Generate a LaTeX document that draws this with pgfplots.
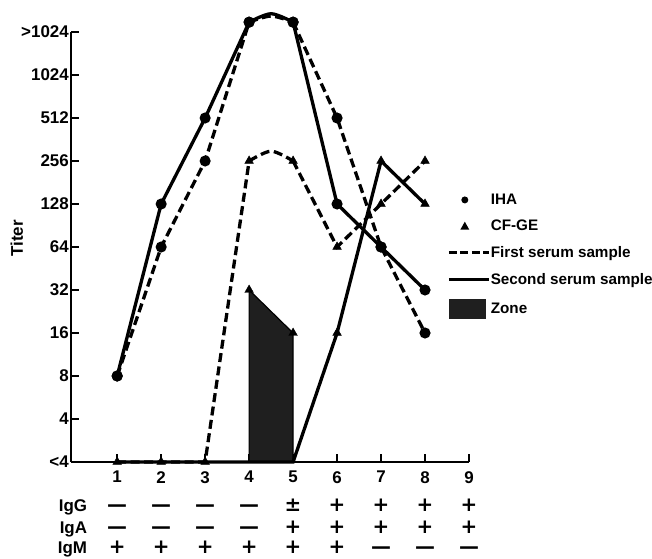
\documentclass[border=0pt]{standalone}
\usepackage{pgfplots}
\pgfplotsset{compat=1.18}
\usepackage{fontspec}
\setmainfont{Liberation Sans}
\newfontfamily\signfont{DejaVu Sans}
\newcommand\tfont{\bfseries\fontsize{17}{19}\selectfont}
\newcommand\lfont{\bfseries\fontsize{15.3}{17}\selectfont}
\newcommand\sfont{\signfont\bfseries\fontsize{20}{20}\selectfont}
\begin{document}
\begin{tikzpicture}
\useasboundingbox (0,0) rectangle (652bp,559bp);
\begin{axis}[
  at={(71bp,97bp)}, anchor=south west,
  scale only axis, width=398bp, height=430bp,
  xmin=-0.05, xmax=9, ymin=2, ymax=2048,
  ymode=log, log basis y=2,
  axis x line*=bottom, axis y line*=left,
  axis line style={line width=2.8bp},
  xtick={1,2,3,4,5,6,7,8,9},
  xticklabels={1,2,3,4,5,6,7,8,9},
  ytick={2,4,8,16,32,64,128,256,512,1024,2048},
  yticklabels={{<4},4,8,16,32,64,128,256,512,1024,{>1024}},
  tick align=inside, major tick length=8bp, minor tick num=0,
  tick style={line width=2.5bp, black},
  ticklabel style={font=\tfont},
  xticklabel style={inner sep=3bp, yshift=-6bp},
  yticklabel style={inner sep=2bp},
  ylabel={Titer},
  ylabel style={at={(axis description cs:-0.136,0.52)}, anchor=center, font=\tfont},
  clip=false,
  legend cell align=left,
  legend style={draw=none, fill=none, at={(axis description cs:0.945,0.625)}, anchor=north west,
    inner sep=0pt, row sep=13.2bp, nodes={inner sep=0.5bp, font=\lfont}},
]
% Zone
\addplot[forget plot, fill=black!88, draw=black, line width=1.2bp] coordinates {(4,2) (4,32) (5,16) (5,2)} -- cycle;
\addplot[forget plot, only marks, mark=triangle*, mark size=5bp, mark options={fill=black}] coordinates {(4,32) (5,16)};
% CF-GE second serum (solid)
\addplot[forget plot, black, line width=3.3bp, mark=triangle*, mark size=5bp, mark indices={6,7,8}, mark options={solid, fill=black, line width=0.5bp}]
  coordinates {(1,2) (2,2) (3,2) (4,2) (5,2) (6,16) (7,256) (8,128)};
% CF-GE first serum (dashed)
\addplot[forget plot, black, line width=3.3bp, dash pattern=on 9bp off 4.5bp, mark=triangle*, mark size=5bp, mark options={solid, fill=black, line width=0.5bp}]
  coordinates {(1,2) (2,2) (3,2) (4,256)};
\addplot[forget plot, black, line width=3.3bp, dash pattern=on 9bp off 4.5bp, smooth, no marks]
  coordinates {(4,256) (4.5,300) (5,256)};
\addplot[forget plot, black, line width=3.3bp, dash pattern=on 9bp off 4.5bp, mark=triangle*, mark size=5bp, mark options={solid, fill=black, line width=0.5bp}]
  coordinates {(5,256) (6,64) (7,128) (8,256)};
% IHA second serum (solid)
\addplot[forget plot, black, line width=3.3bp, mark=*, mark size=3.8bp, mark options={solid, fill=black}]
  coordinates {(1,8) (2,128) (3,512) (4,2400)};
\addplot[forget plot, black, line width=3.3bp, smooth, no marks]
  coordinates {(4,2400) (4.5,2750) (5,2400)};
\addplot[forget plot, black, line width=3.3bp, mark=*, mark size=3.8bp, mark options={solid, fill=black}]
  coordinates {(5,2400) (6,128) (7,64) (8,32)};
% IHA first serum (dashed)
\addplot[forget plot, black, line width=3.3bp, dash pattern=on 9bp off 4.5bp, mark=*, mark size=3.8bp, mark options={solid, fill=black}]
  coordinates {(1,8) (2,64) (3,256) (4,2400)};
\addplot[forget plot, black, line width=3.3bp, dash pattern=on 9bp off 4.5bp, smooth, no marks]
  coordinates {(4,2400) (4.5,2650) (5,2400)};
\addplot[forget plot, black, line width=3.3bp, dash pattern=on 9bp off 4.5bp, mark=*, mark size=3.8bp, mark options={solid, fill=black}]
  coordinates {(5,2400) (6,512) (7,64) (8,16)};
% legend
\addlegendimage{legend image code/.code={\path[draw=none, fill=none] (0bp,0bp) -- (40bp,0bp); \path[draw=none, fill=black] (16bp,0bp) circle (3.5bp);}}
\addlegendentry{IHA}
\addlegendimage{legend image code/.code={\path[draw=none, fill=none] (0bp,0bp) -- (40bp,0bp); \path[draw=none, fill=black] (16bp,4.5bp) -- (20.5bp,-3.5bp) -- (11.5bp,-3.5bp) -- cycle;}}
\addlegendentry{CF-GE}
\addlegendimage{legend image code/.code={\draw[black, line width=3bp, dash pattern=on 8bp off 3.5bp] (0bp,0bp) -- (40bp,0bp);}}
\addlegendentry{First serum sample}
\addlegendimage{legend image code/.code={\draw[black, line width=3bp] (0bp,0bp) -- (40bp,0bp);}}
\addlegendentry{Second serum sample}
\addlegendimage{legend image code/.code={\path[draw=none, fill=black!88] (0bp,-10bp) rectangle (37bp,10bp);}}
\addlegendentry{Zone}
% Ig table
\node[font=\tfont, anchor=base east, inner sep=0pt] at (axis cs:0.32,2) [yshift=-49bp] {IgG};
\node[font=\tfont, anchor=base east, inner sep=0pt] at (axis cs:0.32,2) [yshift=-71bp] {IgA};
\node[font=\tfont, anchor=base east, inner sep=0pt] at (axis cs:0.32,2) [yshift=-91bp] {IgM};
\node[font=\sfont, anchor=base, inner sep=0pt] at (axis cs:1,2) [yshift=-49bp] {—};
\node[font=\sfont, anchor=base, inner sep=0pt] at (axis cs:2,2) [yshift=-49bp] {—};
\node[font=\sfont, anchor=base, inner sep=0pt] at (axis cs:3,2) [yshift=-49bp] {—};
\node[font=\sfont, anchor=base, inner sep=0pt] at (axis cs:4,2) [yshift=-49bp] {—};
\node[font=\sfont, anchor=base, inner sep=0pt] at (axis cs:5,2) [yshift=-49bp] {±};
\node[font=\sfont, anchor=base, inner sep=0pt] at (axis cs:6,2) [yshift=-49bp] {+};
\node[font=\sfont, anchor=base, inner sep=0pt] at (axis cs:7,2) [yshift=-49bp] {+};
\node[font=\sfont, anchor=base, inner sep=0pt] at (axis cs:8,2) [yshift=-49bp] {+};
\node[font=\sfont, anchor=base, inner sep=0pt] at (axis cs:9,2) [yshift=-49bp] {+};
\node[font=\sfont, anchor=base, inner sep=0pt] at (axis cs:1,2) [yshift=-71bp] {—};
\node[font=\sfont, anchor=base, inner sep=0pt] at (axis cs:2,2) [yshift=-71bp] {—};
\node[font=\sfont, anchor=base, inner sep=0pt] at (axis cs:3,2) [yshift=-71bp] {—};
\node[font=\sfont, anchor=base, inner sep=0pt] at (axis cs:4,2) [yshift=-71bp] {—};
\node[font=\sfont, anchor=base, inner sep=0pt] at (axis cs:5,2) [yshift=-71bp] {+};
\node[font=\sfont, anchor=base, inner sep=0pt] at (axis cs:6,2) [yshift=-71bp] {+};
\node[font=\sfont, anchor=base, inner sep=0pt] at (axis cs:7,2) [yshift=-71bp] {+};
\node[font=\sfont, anchor=base, inner sep=0pt] at (axis cs:8,2) [yshift=-71bp] {+};
\node[font=\sfont, anchor=base, inner sep=0pt] at (axis cs:9,2) [yshift=-71bp] {+};
\node[font=\sfont, anchor=base, inner sep=0pt] at (axis cs:1,2) [yshift=-91bp] {+};
\node[font=\sfont, anchor=base, inner sep=0pt] at (axis cs:2,2) [yshift=-91bp] {+};
\node[font=\sfont, anchor=base, inner sep=0pt] at (axis cs:3,2) [yshift=-91bp] {+};
\node[font=\sfont, anchor=base, inner sep=0pt] at (axis cs:4,2) [yshift=-91bp] {+};
\node[font=\sfont, anchor=base, inner sep=0pt] at (axis cs:5,2) [yshift=-91bp] {+};
\node[font=\sfont, anchor=base, inner sep=0pt] at (axis cs:6,2) [yshift=-91bp] {+};
\node[font=\sfont, anchor=base, inner sep=0pt] at (axis cs:7,2) [yshift=-91bp] {—};
\node[font=\sfont, anchor=base, inner sep=0pt] at (axis cs:8,2) [yshift=-91bp] {—};
\node[font=\sfont, anchor=base, inner sep=0pt] at (axis cs:9,2) [yshift=-91bp] {—};
\end{axis}
\end{tikzpicture}
\end{document}
